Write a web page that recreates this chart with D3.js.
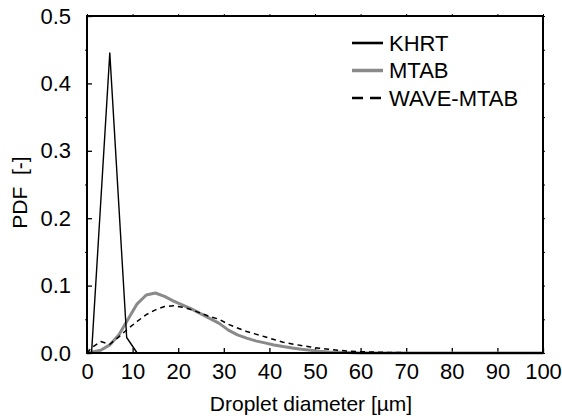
<!DOCTYPE html>
<html>
<head>
<meta charset="utf-8">
<script src="https://cdn.jsdelivr.net/npm/d3@7"></script>
<style>
  body { margin: 0; background: #fff; }
  text { font-family: "Liberation Sans", Arial, sans-serif; fill: #000; }
</style>
</head>
<body>
<div id="chart"></div>
<script>
// droplet diameter (um) and PDF values
const khrtX = [0, 1, 5, 8.7, 11, 20, 40, 60, 80, 100];
const khrtY = [0, 0, 0.445, 0.023, 0, 0, 0, 0, 0, 0];

const mtabX = [0, 1, 3, 5, 7, 9, 11, 13, 15, 17, 19, 21, 23, 25, 27, 29, 31, 33, 35, 37, 39, 41, 43, 45, 47, 49, 51, 53, 55, 60, 70, 80, 90, 100];
const mtabY = [0, 0.001, 0.004, 0.012, 0.027, 0.05, 0.073, 0.086, 0.089, 0.084, 0.077, 0.071, 0.065, 0.058, 0.051, 0.044, 0.034, 0.027, 0.022, 0.018, 0.015, 0.012, 0.0095, 0.0075, 0.0055, 0.004, 0.0025, 0.0015, 0.001, 0, 0, 0, 0, 0];

const waveX = [0, 1, 3, 5, 7, 9, 11, 13, 15, 17, 19, 21, 23, 25, 27, 29, 31, 33, 35, 37, 39, 41, 43, 45, 47, 49, 51, 53, 55, 57, 60, 65, 70, 80, 90, 100];
const waveY = [0, 0.008, 0.017, 0.013, 0.024, 0.036, 0.047, 0.057, 0.064, 0.069, 0.07, 0.068, 0.064, 0.059, 0.054, 0.05, 0.0425, 0.037, 0.032, 0.028, 0.024, 0.02, 0.016, 0.0135, 0.011, 0.009, 0.007, 0.0055, 0.004, 0.003, 0.002, 0.001, 0.0005, 0.0003, 0.0002, 0.0002];

const xTicks = [0, 10, 20, 30, 40, 50, 60, 70, 80, 90, 100];
const yTicks = [0, 0.1, 0.2, 0.3, 0.4, 0.5];
const yMinor = [0.05, 0.15, 0.25, 0.35, 0.45];

const series = [
    { name: 'KHRT', xs: khrtX, ys: khrtY, color: '#000', width: 1.4, dash: null },
    { name: 'MTAB', xs: mtabX, ys: mtabY, color: '#8a8a8a', width: 3, dash: null },
    { name: 'WAVE-MTAB', xs: waveX, ys: waveY, color: '#000', width: 1.5, dash: '5,4' }
];

const width = 562;
const height = 419;
const margin = { top: 16, right: 19, bottom: 66, left: 87 };
const plotW = width - margin.left - margin.right;
const plotH = height - margin.top - margin.bottom;
const fontSize = '22px';

const svg = d3.select('#chart')
    .append('svg')
    .attr('width', width)
    .attr('height', height);

const g = svg.append('g')
    .attr('transform', `translate(${margin.left},${margin.top})`);

const x = d3.scaleLinear().domain([0, 100]).range([0, plotW]);
const y = d3.scaleLinear().domain([0, 0.5]).range([plotH, 0]);

// bottom axis, ticks pointing inward
const xAxis = g.append('g')
    .attr('transform', `translate(0,${plotH})`)
    .call(d3.axisBottom(x).tickValues(xTicks).tickSize(-5).tickPadding(10).tickFormat(d3.format('d')));
xAxis.select('.domain').remove();
xAxis.selectAll('text').style('font-size', fontSize);
xAxis.selectAll('line').attr('stroke-width', 1.3);

// top axis, small outward ticks
const xTop = g.append('g')
    .call(d3.axisTop(x).tickValues(xTicks).tickSize(2).tickFormat(''));
xTop.select('.domain').remove();

// left axis
const yAxis = g.append('g')
    .call(d3.axisLeft(y).tickValues(yTicks).tickSize(-5).tickPadding(16).tickFormat(d3.format('.1f')));
yAxis.select('.domain').remove();
yAxis.selectAll('text').style('font-size', fontSize);
yAxis.selectAll('line').attr('stroke-width', 1.3);

const yMinorAxis = g.append('g')
    .call(d3.axisLeft(y).tickValues(yMinor).tickSize(2).tickFormat(''));
yMinorAxis.select('.domain').remove();

// right axis, small outward ticks
const yRight = g.append('g')
    .attr('transform', `translate(${plotW},0)`)
    .call(d3.axisRight(y).tickValues(yTicks.concat(yMinor)).tickSize(2).tickFormat(''));
yRight.select('.domain').remove();

const line = d3.line()
    .x(d => x(d[0]))
    .y(d => y(d[1]));

// MTAB drawn first so black lines sit on top
[series[1], series[2], series[0]].forEach(s => {
    g.append('path')
        .datum(s.xs.map((v, i) => [v, s.ys[i]]))
        .attr('fill', 'none')
        .attr('stroke', s.color)
        .attr('stroke-width', s.width)
        .attr('stroke-dasharray', s.dash)
        .attr('stroke-linejoin', 'round')
        .attr('d', line);
});

// frame
g.append('rect')
    .attr('width', plotW)
    .attr('height', plotH)
    .attr('fill', 'none')
    .attr('stroke', '#000')
    .attr('stroke-width', 2);

// legend
const legend = g.append('g')
    .attr('transform', `translate(${352 - margin.left},${43 - margin.top})`);

series.forEach((s, i) => {
    const row = legend.append('g').attr('transform', `translate(0,${i * 27.5})`);
    row.append('line')
        .attr('x1', 0).attr('x2', 31)
        .attr('stroke', s.color)
        .attr('stroke-width', s.name === 'MTAB' ? 3.5 : 2.6)
        .attr('stroke-dasharray', s.dash ? '11,7' : null);
    row.append('text')
        .attr('x', 37)
        .attr('dy', '0.35em')
        .style('font-size', fontSize)
        .text(s.name);
});

// axis titles
svg.append('text')
    .attr('x', margin.left + plotW / 2 - 4)
    .attr('y', 411)
    .attr('text-anchor', 'middle')
    .style('font-size', '21px')
    .text('Droplet diameter [µm]');

svg.append('text')
    .attr('transform', `translate(27,${margin.top + plotH / 2 + 8}) rotate(-90)`)
    .attr('text-anchor', 'middle')
    .style('font-size', '21px')
    .text('PDF\u00a0\u00a0[-]');
</script>
</body>
</html>
